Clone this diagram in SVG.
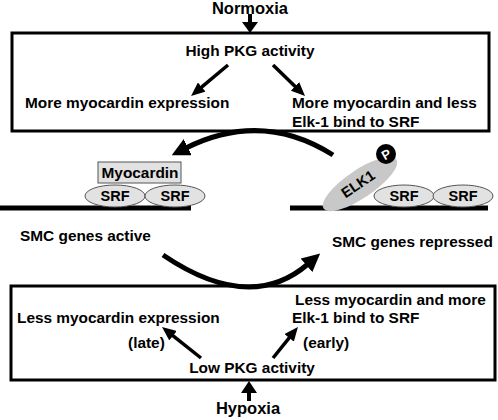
<svg xmlns="http://www.w3.org/2000/svg" width="498" height="420" viewBox="0 0 498 420">
<style>
text{font-family:"Liberation Sans",Arial,sans-serif;font-weight:bold;fill:#000}
.t15{font-size:15.4px}
.t16{font-size:16.5px}
.t14{font-size:14.5px}
.box{fill:#fff;stroke:#000;stroke-width:3}
.srf{fill:#e2e2e2;stroke:#555;stroke-width:1}
.dna{stroke:#000;stroke-width:5}
.arr{fill:none;stroke:#000;stroke-width:3.5}
.curve{fill:none;stroke:#000;stroke-width:5}
</style>
<defs>
<marker id="ah" markerUnits="userSpaceOnUse" markerWidth="14" markerHeight="12" refX="1" refY="6" orient="auto">
<path d="M0,0 L14,6 L0,12 z" fill="#000"/>
</marker>
<marker id="ahBig" markerUnits="userSpaceOnUse" markerWidth="18" markerHeight="18" refX="2" refY="9" orient="auto">
<path d="M0,0 L18,9 L0,18 z" fill="#000"/>
</marker>
</defs>

<g id="normoxia">
<text class="t16" x="250" y="14" text-anchor="middle">Normoxia</text>
</g>

<g id="top-box">
<rect class="box" x="12" y="33" width="477" height="98"/>
<text class="t15" x="250" y="56" text-anchor="middle">High PKG activity</text>
<text class="t15" x="25" y="108">More myocardin expression</text>
<text class="t15" x="292" y="108">More myocardin and less</text>
<text class="t15" x="292" y="127">Elk-1 bind to SRF</text>
</g>

<g id="active-complex">
<line class="dna" x1="0" y1="208" x2="191" y2="208"/>
<ellipse class="srf" cx="115" cy="196" rx="30" ry="11"/>
<ellipse class="srf" cx="175" cy="196" rx="30" ry="11"/>
<text class="t14" x="115" y="201" text-anchor="middle">SRF</text>
<text class="t14" x="175" y="201" text-anchor="middle">SRF</text>
<rect class="srf" x="98" y="162" width="83" height="21"/>
<text class="t15" x="140" y="178" text-anchor="middle">Myocardin</text>
</g>

<g id="repressed-complex">
<line class="dna" x1="290" y1="208" x2="488" y2="208"/>
<ellipse class="srf" cx="404" cy="196" rx="30" ry="11"/>
<ellipse class="srf" cx="463" cy="196" rx="30" ry="11"/>
<text class="t14" x="404" y="201" text-anchor="middle">SRF</text>
<text class="t14" x="463" y="201" text-anchor="middle">SRF</text>
<ellipse cx="360" cy="184" rx="44" ry="14" fill="#c8c8c8" transform="rotate(-34 360 184)"/>
<text class="t14" x="358" y="189" text-anchor="middle" transform="rotate(-34 358 184)">ELK1</text>
<circle cx="386" cy="154" r="10" fill="#000"/>
<text x="386" y="159" text-anchor="middle" style="font-size:13px;fill:#fff" transform="rotate(-30 386 154)">P</text>
</g>

<g id="labels">
<text class="t15" x="20" y="241">SMC genes active</text>
<text class="t15" x="332" y="247">SMC genes repressed</text>
</g>

<g id="bottom-box">
<rect class="box" x="11" y="286" width="484" height="94"/>
<text class="t15" x="295" y="305">Less myocardin and more</text>
<text class="t15" x="17" y="323">Less myocardin expression</text>
<text class="t15" x="292" y="323">Elk-1 bind to SRF</text>
<text class="t15" x="128" y="348">(late)</text>
<text class="t15" x="303" y="348">(early)</text>
<text class="t15" x="252" y="373" text-anchor="middle">Low PKG activity</text>
</g>

<g id="hypoxia">
<text class="t16" x="248" y="414" text-anchor="middle">Hypoxia</text>
</g>

<g id="connectors">
<rect x="248" y="14" width="4" height="9" fill="#000"/>
<path d="M242,22 L258,22 L250,33 z" fill="#000"/>
<line class="arr" x1="228" y1="65" x2="201" y2="87.7" marker-end="url(#ah)"/>
<line class="arr" x1="273" y1="65" x2="295.7" y2="87" marker-end="url(#ah)"/>
<path class="curve" d="M333,155 Q262,110 186,148" marker-end="url(#ahBig)"/>
<path class="curve" d="M163,255 Q250,314 308,264" marker-end="url(#ahBig)"/>
<line class="arr" x1="201" y1="358" x2="172.2" y2="335.1" marker-end="url(#ah)"/>
<line class="arr" x1="273" y1="358" x2="289.8" y2="337.1" marker-end="url(#ah)"/>
<path d="M249,381 L241,393 L257,393 z" fill="#000"/>
<rect x="247" y="392" width="4" height="9" fill="#000"/>
</g>
</svg>
